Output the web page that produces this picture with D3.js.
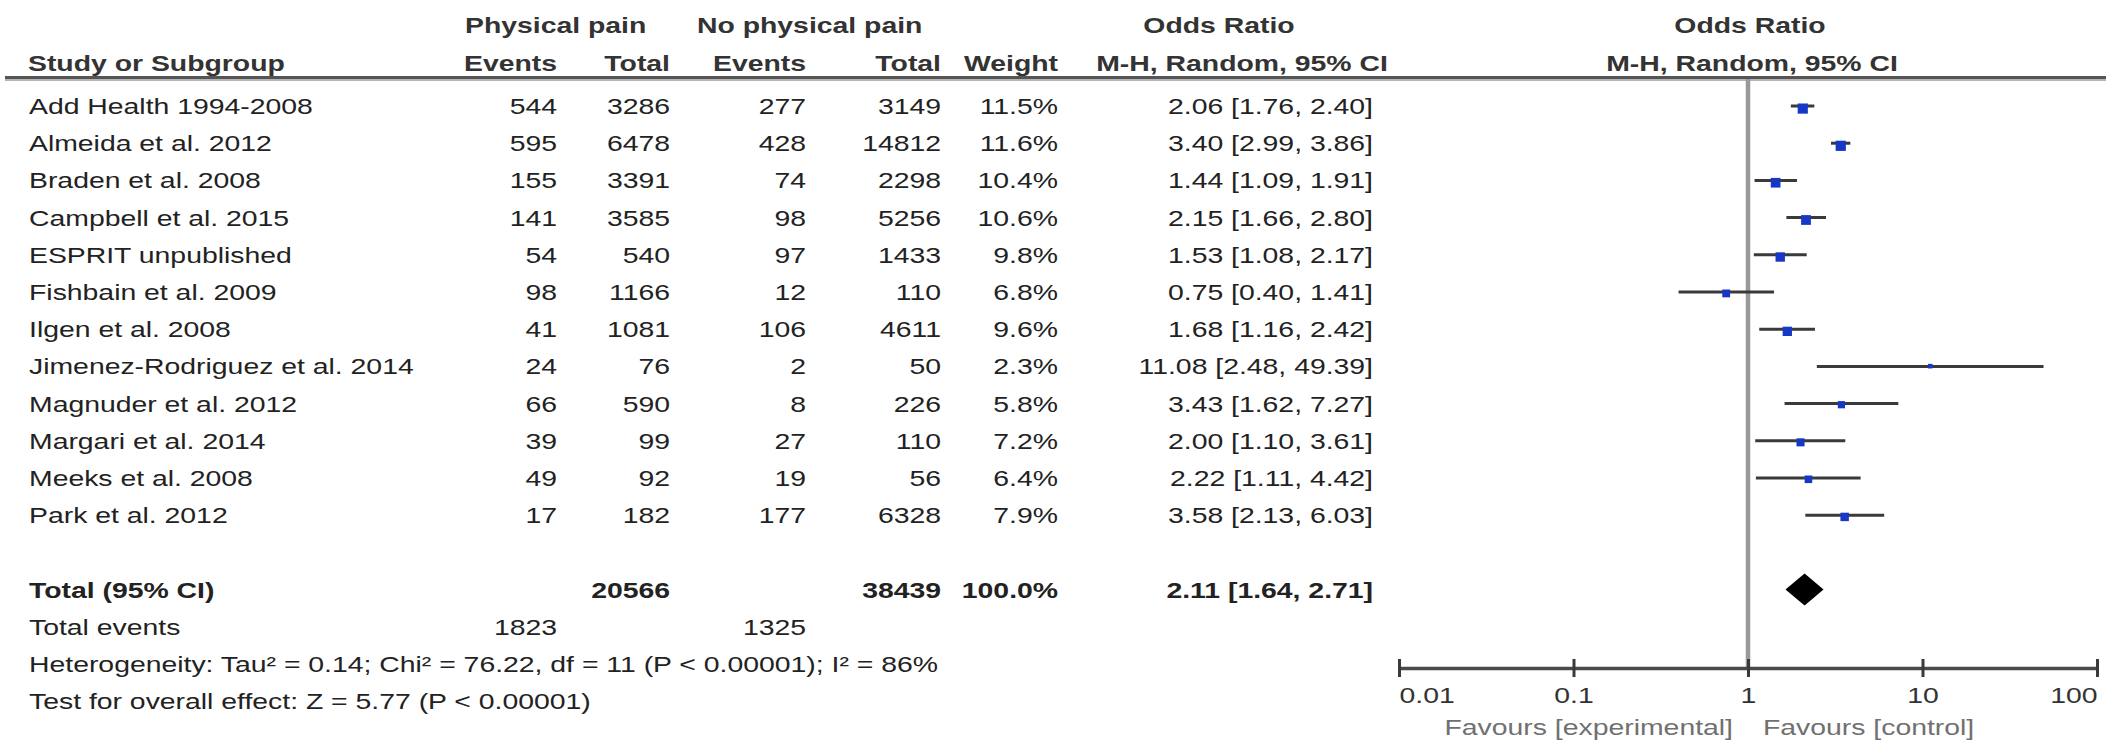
<!DOCTYPE html>
<html>
<head>
<meta charset="utf-8">
<script src="https://cdn.jsdelivr.net/npm/d3@7"></script>
<style>
  html, body { margin: 0; padding: 0; background: #fff; }
  svg { display: block; font-family: "Liberation Sans", Arial, sans-serif; }
</style>
</head>
<body>
<svg id="chart" width="2106" height="742"></svg>
<script>
// ---------------- data ----------------
const studies = [
  "Add Health 1994-2008", "Almeida et al. 2012", "Braden et al. 2008", "Campbell et al. 2015",
  "ESPRIT unpublished", "Fishbain et al. 2009", "Ilgen et al. 2008", "Jimenez-Rodriguez et al. 2014",
  "Magnuder et al. 2012", "Margari et al. 2014", "Meeks et al. 2008", "Park et al. 2012"
];
const eventsPain   = [544, 595, 155, 141, 54, 98, 41, 24, 66, 39, 49, 17];
const totalPain    = [3286, 6478, 3391, 3585, 540, 1166, 1081, 76, 590, 99, 92, 182];
const eventsNoPain = [277, 428, 74, 98, 97, 12, 106, 2, 8, 27, 19, 177];
const totalNoPain  = [3149, 14812, 2298, 5256, 1433, 110, 4611, 50, 226, 110, 56, 6328];
const weights      = [11.5, 11.6, 10.4, 10.6, 9.8, 6.8, 9.6, 2.3, 5.8, 7.2, 6.4, 7.9];
const oddsRatio    = [2.06, 3.40, 1.44, 2.15, 1.53, 0.75, 1.68, 11.08, 3.43, 2.00, 2.22, 3.58];
const ciLow        = [1.76, 2.99, 1.09, 1.66, 1.08, 0.40, 1.16, 2.48, 1.62, 1.10, 1.11, 2.13];
const ciHigh       = [2.40, 3.86, 1.91, 2.80, 2.17, 1.41, 2.42, 49.39, 7.27, 3.61, 4.42, 6.03];

const totalLabel = "Total (95% CI)";
const totalPainN = 20566, totalNoPainN = 38439, totalWeight = "100.0%";
const pooledOR = 2.11, pooledLow = 1.64, pooledHigh = 2.71;
const totalEventsPain = 1823, totalEventsNoPain = 1325;
const heterogeneityText = "Heterogeneity: Tau\u00B2 = 0.14; Chi\u00B2 = 76.22, df = 11 (P < 0.00001); I\u00B2 = 86%";
const overallText = "Test for overall effect: Z = 5.77 (P < 0.00001)";
const tickValues = [0.01, 0.1, 1, 10, 100];
const tickLabels = ["0.01", "0.1", "1", "10", "100"];
const favoursLeft = "Favours [experimental]";
const favoursRight = "Favours [control]";

// ---------------- layout ----------------
const svg = d3.select("#chart");
svg.append("rect").attr("width", 2106).attr("height", 742).attr("fill", "#fff");

const SX = 1.29;        // horizontal stretch of the original text
const FS = 22;
const rowY0 = 106, rowStep = 37.2;
const rowY = i => rowY0 + i * rowStep;

const colLabel = 29;
const colEv1 = 557, colTot1 = 670, colEv2 = 806, colTot2 = 941, colW = 1058, colCI = 1373;

function txt(x, y, s, opts = {}) {
  return svg.append("text")
    .attr("transform", `translate(${x},${y}) scale(${SX},1)`)
    .attr("dy", "0.36em")
    .attr("text-anchor", opts.anchor || "start")
    .attr("font-size", FS)
    .attr("font-weight", opts.bold ? "bold" : "normal")
    .attr("fill", opts.fill || "#222")
    .text(s);
}
const fmt2 = v => v.toFixed(2);
const ciText = (o, l, h) => `${fmt2(o)} [${fmt2(l)}, ${fmt2(h)}]`;

// ---------------- headers ----------------
const hdr = "#333";
txt(465, 25, "Physical pain", { bold: true, fill: hdr });
txt(697, 25, "No physical pain", { bold: true, fill: hdr });
txt(1219, 25, "Odds Ratio", { bold: true, fill: hdr, anchor: "middle" });
txt(1750, 25, "Odds Ratio", { bold: true, fill: hdr, anchor: "middle" });

txt(28, 63, "Study or Subgroup", { bold: true, fill: hdr });
txt(colEv1, 63, "Events", { bold: true, fill: hdr, anchor: "end" });
txt(colTot1, 63, "Total", { bold: true, fill: hdr, anchor: "end" });
txt(colEv2, 63, "Events", { bold: true, fill: hdr, anchor: "end" });
txt(colTot2, 63, "Total", { bold: true, fill: hdr, anchor: "end" });
txt(colW, 63, "Weight", { bold: true, fill: hdr, anchor: "end" });
txt(1242, 63, "M-H, Random, 95% CI", { bold: true, fill: hdr, anchor: "middle" });
txt(1752, 63, "M-H, Random, 95% CI", { bold: true, fill: hdr, anchor: "middle" });

svg.append("line").attr("x1", 5).attr("x2", 2106).attr("y1", 77.5).attr("y2", 77.5)
  .attr("stroke", "#555").attr("stroke-width", 3);
svg.append("line").attr("x1", 5).attr("x2", 2106).attr("y1", 80).attr("y2", 80)
  .attr("stroke", "#b5b5b5").attr("stroke-width", 2);

// ---------------- table rows ----------------
studies.forEach((s, i) => {
  const y = rowY(i);
  txt(colLabel, y, s);
  txt(colEv1, y, eventsPain[i], { anchor: "end" });
  txt(colTot1, y, totalPain[i], { anchor: "end" });
  txt(colEv2, y, eventsNoPain[i], { anchor: "end" });
  txt(colTot2, y, totalNoPain[i], { anchor: "end" });
  txt(colW, y, weights[i].toFixed(1) + "%", { anchor: "end" });
  txt(colCI, y, ciText(oddsRatio[i], ciLow[i], ciHigh[i]), { anchor: "end" });
});

const yTot = rowY(13), yEv = rowY(14), yHet = rowY(15), yTest = rowY(16);
txt(colLabel, yTot, totalLabel, { bold: true });
txt(colTot1, yTot, totalPainN, { bold: true, anchor: "end" });
txt(colTot2, yTot, totalNoPainN, { bold: true, anchor: "end" });
txt(colW, yTot, totalWeight, { bold: true, anchor: "end" });
txt(colCI, yTot, ciText(pooledOR, pooledLow, pooledHigh), { bold: true, anchor: "end" });
txt(colLabel, yEv, "Total events");
txt(colEv1, yEv, totalEventsPain, { anchor: "end" });
txt(colEv2, yEv, totalEventsNoPain, { anchor: "end" });
txt(colLabel, yHet, heterogeneityText);
txt(colLabel, yTest, overallText);

// ---------------- forest plot ----------------
const x = d3.scaleLog().domain([0.01, 100]).range([1399, 2097]);
const axisY = 668;

// line of no effect
svg.append("line").attr("x1", x(1)).attr("x2", x(1)).attr("y1", 79).attr("y2", axisY)
  .attr("stroke", "#999").attr("stroke-width", 4.5);

// CIs + squares
studies.forEach((s, i) => {
  const y = rowY(i);
  svg.append("line")
    .attr("x1", x(ciLow[i])).attr("x2", x(ciHigh[i]))
    .attr("y1", y).attr("y2", y)
    .attr("stroke", "#3a3a3a").attr("stroke-width", 3);
  const h = Math.max(4, 3.0 * Math.sqrt(weights[i]));
  svg.append("rect")
    .attr("x", x(oddsRatio[i]) - h / 2).attr("y", y - 2.5)
    .attr("width", h).attr("height", h)
    .attr("fill", "#1638c4");
});

// pooled diamond
svg.append("path")
  .attr("d", d3.line()([
    [x(pooledLow), yTot], [x(pooledOR), yTot - 16], [x(pooledHigh), yTot], [x(pooledOR), yTot + 16]
  ]) + "Z")
  .attr("fill", "#000");

// axis
const axis = d3.axisBottom(x).tickValues(tickValues)
  .tickFormat((d, i) => tickLabels[i]).tickSizeOuter(0).tickSize(0);
const ag = svg.append("g").attr("transform", `translate(0,${axisY})`).call(axis);
ag.select(".domain").attr("stroke", "#4a4a4a").attr("stroke-width", 3.5);
ag.selectAll(".tick line").attr("y1", -9).attr("y2", 9)
  .attr("stroke", "#3a3a3a").attr("stroke-width", 3);
ag.selectAll(".tick text")
  .attr("y", 0).attr("dy", "0.36em")
  .attr("transform", `translate(0,27) scale(${SX},1)`)
  .attr("font-size", FS).attr("font-family", "Liberation Sans, Arial, sans-serif")
  .attr("fill", "#333")
  .attr("text-anchor", (d, i) => i === 0 ? "start" : (i === tickValues.length - 1 ? "end" : "middle"));

txt(x(1) - 15, 727, favoursLeft, { anchor: "end", fill: "#707070" });
txt(x(1) + 15, 727, favoursRight, { fill: "#707070" });
</script>
</body>
</html>
